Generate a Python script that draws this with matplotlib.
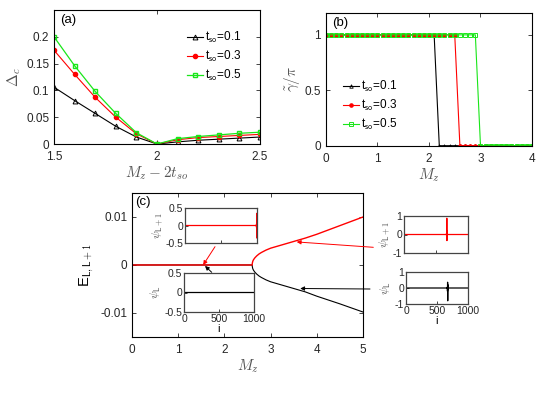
import numpy as np
import matplotlib
matplotlib.use('Agg')
from matplotlib import pyplot as plt
from matplotlib.ticker import FormatStrFormatter

plt.rcParams['font.family'] = ['Liberation Sans', 'DejaVu Sans']
plt.rcParams['mathtext.fontset'] = 'cm'
plt.rcParams['font.size'] = 8.5
plt.rcParams['xtick.direction'] = 'in'
plt.rcParams['ytick.direction'] = 'in'
plt.rcParams['xtick.top'] = True
plt.rcParams['ytick.right'] = True
plt.rcParams['xtick.major.size'] = 3
plt.rcParams['ytick.major.size'] = 3
plt.rcParams['xtick.major.width'] = 0.6
plt.rcParams['ytick.major.width'] = 0.6
plt.rcParams['xtick.major.pad'] = 5
plt.rcParams['axes.linewidth'] = 0.8
plt.rcParams['xtick.color'] = '#262626'
plt.rcParams['ytick.color'] = '#262626'

# ---- panel (a): gap vs Mz - 2 t_so
mz_shift = [1.5, 1.6, 1.7, 1.8, 1.9, 2.0, 2.1, 2.2, 2.3, 2.4, 2.5]
gap_01 = [0.106, 0.081, 0.057, 0.033, 0.013, 0.0, 0.004, 0.007, 0.009, 0.011, 0.013]
gap_03 = [0.175, 0.130, 0.087, 0.050, 0.019, 0.0, 0.008, 0.012, 0.014, 0.016, 0.018]
gap_05 = [0.200, 0.146, 0.098, 0.057, 0.021, 0.0, 0.010, 0.014, 0.017, 0.020, 0.022]

# ---- panel (b): Berry phase vs Mz (step 0.1 from 0 to 4)
mz_b = np.round(np.arange(0, 4.01, 0.1), 1)
gamma_01 = [1] * 22 + [0] * 19
gamma_03 = [1] * 26 + [0] * 15
gamma_05 = [1] * 30 + [0] * 11

tso_labels = [r't$_{\mathsf{so}}$=0.1', r't$_{\mathsf{so}}$=0.3', r't$_{\mathsf{so}}$=0.5']

# ---- panel (c): energies E_L, E_L+1 vs Mz
mz_c = [0, 0.5, 1.0, 1.5, 2.0, 2.5, 2.6, 2.605, 2.615, 2.63, 2.66, 2.7, 2.75, 2.8,
        2.9, 3.0, 3.25, 3.5, 3.75, 4.0, 4.5, 5.0]
e_l1 = [0, 0, 0, 0, 0, 0, 0, 0.0004, 0.0008, 0.0011, 0.0015, 0.0019, 0.0023, 0.0026,
        0.0031, 0.0035, 0.0042, 0.0049, 0.0056, 0.0064, 0.0082, 0.0100]
e_l = [0, 0, 0, 0, 0, 0, 0, -0.0004, -0.0008, -0.0011, -0.0015, -0.0019, -0.0023, -0.0026,
       -0.0031, -0.0035, -0.0042, -0.0049, -0.0056, -0.0065, -0.0081, -0.0098]

# inset wavefunctions (site index i, amplitude)
i_left_l1 = [0, 985, 990, 993, 995, 997, 998, 999, 1000]
psi_left_l1 = [0, 0, 0.02, -0.05, 0.1, -0.2, 0.35, -0.36, 0]
i_left_l = [0, 1, 2, 3, 4, 6, 10, 1000]
psi_left_l = [0.07, -0.07, 0.05, -0.03, 0.02, 0.0, 0, 0]
i_right_l1 = [0, 660, 664, 667, 669, 671, 673, 676, 680, 1000]
psi_right_l1 = [0, 0, 0.05, -0.15, 0.88, -0.33, 0.2, -0.05, 0, 0]
i_right_l = [0, 662, 666, 669, 671, 673, 675, 678, 682, 1000]
psi_right_l = [0, 0, 0.05, -0.2, 0.36, -0.8, 0.2, -0.05, 0, 0]

RED = '#ff0000'
GREEN = '#19e619'
LABEL_C = '#555555'

fig = plt.figure(figsize=(5.39, 3.94), dpi=100)

# (a)
ax_a = fig.add_axes([0.1002, 0.6345, 0.3822, 0.3401])
ax_a.plot(mz_shift, gap_01, '-^', color='k', lw=0.8, ms=3.5, mfc='none', mew=0.7, label=tso_labels[0])
ax_a.plot(mz_shift, gap_03, '-o', color=RED, lw=0.8, ms=3, label=tso_labels[1])
ax_a.plot(mz_shift, gap_05, '-s', color=GREEN, lw=0.9, ms=3.5, mfc='none', mew=1.0, label=tso_labels[2])
ax_a.set_xlim(1.5, 2.5)
ax_a.set_ylim(0, 0.25)
ax_a.set_xticks([1.5, 2, 2.5])
ax_a.set_yticks([0, 0.05, 0.1, 0.15, 0.2])
ax_a.xaxis.set_major_formatter(FormatStrFormatter('%g'))
ax_a.yaxis.set_major_formatter(FormatStrFormatter('%g'))
ax_a.set_xlabel(r'$M_z - 2t_{so}$', fontsize=11, color=LABEL_C, labelpad=1)
ax_a.set_ylabel(r'$\Delta_c$', fontsize=11, color=LABEL_C, labelpad=2)
ax_a.text(0.03, 0.97, '(a)', transform=ax_a.transAxes, fontsize=9.5, va='top')
ax_a.legend(loc='upper right', frameon=False, fontsize=8.5, handlelength=1.4,
            handletextpad=0.1, labelspacing=0.35, bbox_to_anchor=(0.96, 0.93))

# (b)
ax_b = fig.add_axes([0.6048, 0.6302, 0.3822, 0.3376])
ax_b.plot(mz_b, gamma_01, '-^', color='k', lw=0.8, ms=2.5, mfc='none', mew=0.6, label=tso_labels[0])
ax_b.plot(mz_b, gamma_03, '-o', color=RED, lw=0.8, ms=2.3, label=tso_labels[1])
ax_b.plot(mz_b, gamma_05, '-s', color=GREEN, lw=0.8, ms=2.5, mfc='none', mew=0.7, label=tso_labels[2])
ax_b.set_xlim(0, 4)
ax_b.set_ylim(0, 1.2)
ax_b.set_xticks([0, 1, 2, 3, 4])
ax_b.set_yticks([0, 0.5, 1])
ax_b.yaxis.set_major_formatter(FormatStrFormatter('%g'))
ax_b.set_xlabel(r'$M_z$', fontsize=11, color=LABEL_C, labelpad=1)
ax_b.set_ylabel(r'$\tilde{\gamma}/\pi$', fontsize=11, color=LABEL_C, labelpad=2)
ax_b.text(0.03, 0.97, '(b)', transform=ax_b.transAxes, fontsize=9.5, va='top')
ax_b.legend(loc='center left', frameon=False, fontsize=8.5, handlelength=1.4,
            handletextpad=0.1, labelspacing=0.35, bbox_to_anchor=(0.03, 0.30))

# (c)
ax_c = fig.add_axes([0.2449, 0.1447, 0.4286, 0.3655])
ax_c.plot(mz_c, e_l, '-', color='k', lw=0.8)
ax_c.plot(mz_c, e_l1, '-', color=RED, lw=1.0)
ax_c.set_xlim(0, 5)
ax_c.set_ylim(-0.015, 0.015)
ax_c.set_xticks([0, 1, 2, 3, 4, 5])
ax_c.set_yticks([-0.01, 0, 0.01])
ax_c.yaxis.set_major_formatter(FormatStrFormatter('%g'))
ax_c.set_xlabel(r'$M_z$', fontsize=11, color=LABEL_C, labelpad=1)
ax_c.set_ylabel('E$_{\\mathsf{L,L+1}}$', fontsize=10.5, labelpad=3)
ax_c.text(0.015, 0.98, '(c)', transform=ax_c.transAxes, fontsize=9.5, va='top')


def inset(rect, xs, ys, color, ylab, ylim, yticks, show_x):
    ax = fig.add_axes(rect)
    ax.plot(xs, ys, '-', color=color, lw=0.9)
    ax.set_xlim(0, 1000)
    ax.set_ylim(*ylim)
    ax.set_yticks(yticks)
    ax.set_xticks([0, 500, 1000])
    ax.yaxis.set_major_formatter(FormatStrFormatter('%g'))
    ax.tick_params(labelsize=7.5, length=2, pad=1.5, top=False, right=False)
    for sp in ax.spines.values():
        sp.set_color('#444444')
        sp.set_linewidth(0.9)
    if not show_x:
        ax.set_xticklabels([])
    else:
        ax.set_xlabel('i', fontsize=8, labelpad=0)
    ax.set_ylabel(ylab, fontsize=8.5, labelpad=1, color=LABEL_C)
    return ax


W, H = 539.0, 394.0


def px_rect(x0, x1, y0, y1):
    return [x0 / W, 1 - y1 / H, (x1 - x0) / W, (y1 - y0) / H]


inset(px_rect(185, 257, 208, 243), i_left_l1, psi_left_l1, RED,
      r'$\psi_{\mathsf{L+1}}$', (-0.5, 0.5), [-0.5, 0, 0.5], False)
inset(px_rect(184, 254, 273, 312), i_left_l, psi_left_l, 'k',
      r'$\psi_{\mathsf{L}}$', (-0.5, 0.5), [-0.5, 0, 0.5], True)
inset(px_rect(404, 468, 216, 253), i_right_l1, psi_right_l1, RED,
      r'$\psi_{\mathsf{L+1}}$', (-1, 1), [-1, 0, 1], False)
inset(px_rect(406, 468, 272, 304), i_right_l, psi_right_l, 'k',
      r'$\psi_{\mathsf{L}}$', (-1, 1), [-1, 0, 1], True)

# arrows from insets to the curves
arrows = [((215 / W, 1 - 246.7 / H), (1.54, 0.0), RED),
          ((211.7 / W, 1 - 272.3 / H), (1.58, -0.0002), 'k'),
          ((373.3 / W, 1 - 247.3 / H), (3.565, 0.0048), RED),
          ((370 / W, 1 - 289 / H), (3.64, -0.0049), 'k')]
for tail, head, c in arrows:
    ax_c.annotate('', xy=head, xycoords='data', xytext=tail, textcoords='figure fraction',
                  arrowprops=dict(arrowstyle='-|>', color=c, lw=0.7, mutation_scale=6,
                                  shrinkA=0, shrinkB=0), annotation_clip=False)

fig.savefig('out.png', dpi=100)
